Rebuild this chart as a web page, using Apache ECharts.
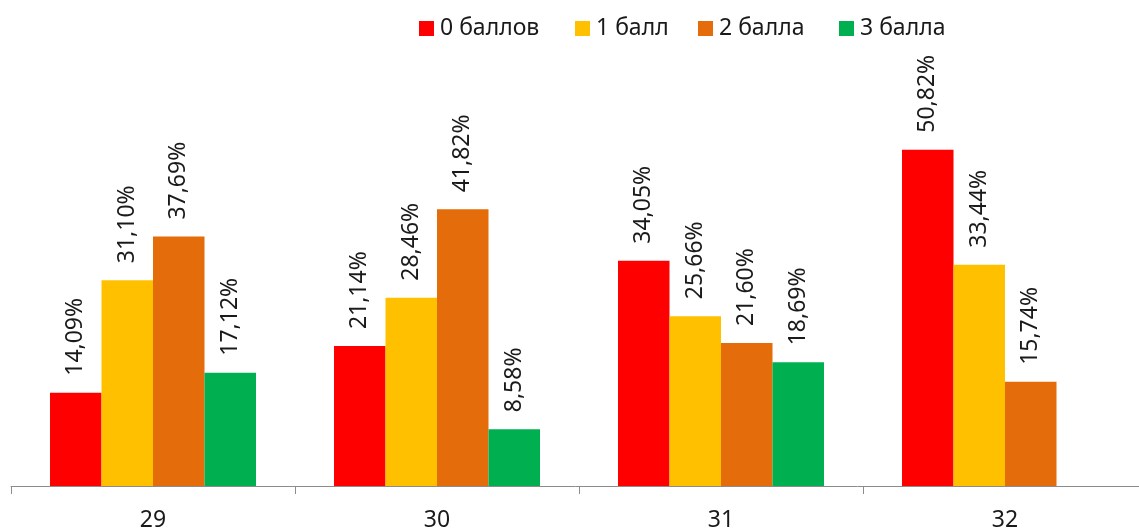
<!DOCTYPE html>
<html><head><meta charset="utf-8">
<script src="https://cdn.jsdelivr.net/npm/echarts@6/dist/echarts.min.js"></script>
<style>html,body{margin:0;padding:0;background:#fff}#c{width:1139px;height:531px}</style>
</head><body><div id="c"></div>
<script>
const categories = ['29', '30', '31', '32'];
const seriesNames = ['0 баллов', '1 балл', '2 балла', '3 балла'];
const s0 = [14.09, 21.14, 34.05, 50.82];
const s1 = [31.10, 28.46, 25.66, 33.44];
const s2 = [37.69, 41.82, 21.60, 15.74];
const s3 = [17.12, 8.58, 18.69, null];
const colors = ['#FF0000', '#FFC000', '#E46C0A', '#00B050'];
const legendLeft = [419, 575, 698, 839];

const FONT = 'Noto Sans';
const chart = echarts.init(document.getElementById('c'));
const mk = (name, data, color) => ({
  name, type: 'bar', data, barWidth: 51.5, barGap: '0%',
  itemStyle: { color },
  label: {
    show: true, position: 'top', rotate: 90, distance: 17,
    align: 'left', verticalAlign: 'middle',
    fontFamily: FONT, fontSize: 23, color: '#1a1a1a',
    formatter: p => p.value == null ? '' : p.value.toFixed(2).replace('.', ',') + '%'
  }
});
chart.setOption({
  animation: false,
  textStyle: { fontFamily: FONT },
  legend: seriesNames.map((n, i) => ({
    top: 17, left: legendLeft[i], padding: 0, itemWidth: 15, itemHeight: 15, icon: 'rect',
    textStyle: { fontFamily: FONT, fontSize: 23, color: '#1a1a1a', padding: [0, 0, 0, 1] },
    data: [n]
  })),
  grid: { left: 11, top: 89, width: 1136, bottom: 45, containLabel: false, outerBoundsMode: 'none' },
  xAxis: {
    type: 'category', data: categories,
    axisLine: { lineStyle: { color: '#8c8c8c', width: 1 } },
    axisTick: { show: true, length: 8, lineStyle: { color: '#8c8c8c' } },
    axisLabel: { fontFamily: FONT, fontSize: 23, color: '#1a1a1a', margin: 23 }
  },
  yAxis: { type: 'value', min: 0, max: 60, show: false, splitLine: { show: false } },
  series: [mk(seriesNames[0], s0, colors[0]), mk(seriesNames[1], s1, colors[1]),
           mk(seriesNames[2], s2, colors[2]), mk(seriesNames[3], s3, colors[3])]
});
</script></body></html>
